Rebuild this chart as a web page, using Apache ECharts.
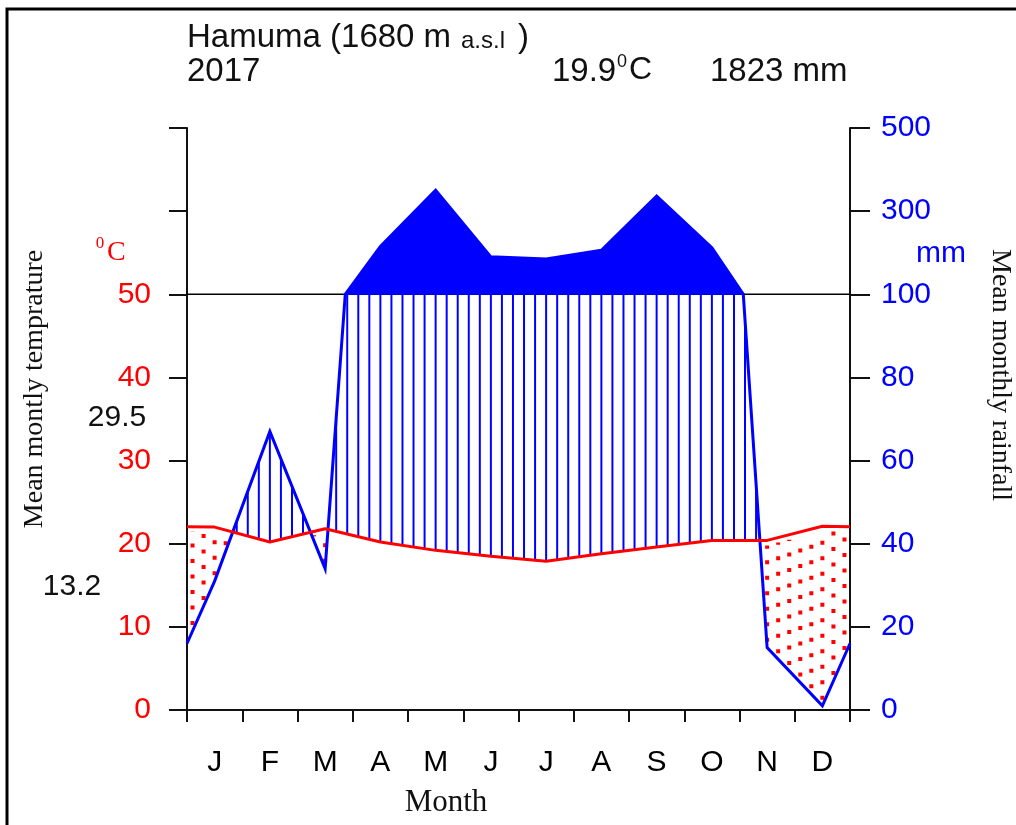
<!DOCTYPE html>
<html><head><meta charset="utf-8">
<script src="https://cdn.jsdelivr.net/npm/echarts@6/dist/echarts.min.js"></script>
<style>html,body{margin:0;padding:0;background:#fff}#c{width:1016px;height:825px}</style>
</head><body><div id="c"></div>
<script>
// ---- data ----
const months = ['J','F','M','A','M','J','J','A','S','O','N','D'];
const temperature = [22.0, 20.2, 21.8, 20.2, 19.2, 18.5, 17.9, 18.8, 19.6, 20.4, 20.4, 22.1]; // °C
const rainfall = [31, 67, 34, 215, 350, 190, 185, 206, 336, 212, 15, 1]; // mm
const leftTickLabels = ['0','10','20','30','40','50','',''];
const rightTickLabels = ['0','20','40','60','80','100','300','500'];
const stationName = 'Hamuma (1680 m';
const stationAlt = 'a.s.l';
const yearLabel = '2017';
const meanTempLabel = '19.9';
const totalRainLabel = '1823 mm';
const maxTempLabel = '29.5';
const minTempLabel = '13.2';

// ---- derived geometry helpers ----
const edgeR = (rainfall[0] + rainfall[11]) / 2;
const edgeT = (temperature[0] + temperature[11]) / 2;
const xs = [0].concat(months.map((m, i) => i + 0.5), [12]);
const rs = [edgeR].concat(rainfall, [edgeR]);
const ts = [edgeT].concat(temperature, [edgeT]);
const scaleRain = r => r <= 100 ? r / 2 : 50 + (r - 100) / 20;
function interp(arr, x) {
  for (let i = 0; i < xs.length - 1; i++) {
    if (x >= xs[i] && x <= xs[i + 1]) {
      const f = (x - xs[i]) / (xs[i + 1] - xs[i]);
      return arr[i] + f * (arr[i + 1] - arr[i]);
    }
  }
  return arr[arr.length - 1];
}
const rainPath = [];
for (let i = 0; i < xs.length; i++) {
  if (i > 0) {
    const r0 = rs[i - 1], r1 = rs[i];
    if ((r0 - 100) * (r1 - 100) < 0) {
      const f = (100 - r0) / (r1 - r0);
      rainPath.push([xs[i - 1] + f * (xs[i] - xs[i - 1]), 100]);
    }
  }
  rainPath.push([xs[i], rs[i]]);
}

const SANS = '"Liberation Sans", Arial, sans-serif';
const SERIF = '"Liberation Serif", "Times New Roman", serif';
const BLUE = '#0000ff', RED = '#ff0000';

function txt(x, y, text, size, color, family, align, rotation) {
  return { type: 'text', x: x, y: y, rotation: rotation || 0, z: 10,
    style: { text: text, font: size + 'px ' + family, fill: color,
      textAlign: align || 'left', textVerticalAlign: 'middle' } };
}

const chart = echarts.init(document.getElementById('c'));
chart.setOption({
  animation: false,
  backgroundColor: '#fff',
  grid: { left: 187, right: 166, top: 128, bottom: 115, outerBoundsMode: 'none' },
  xAxis: [
    { type: 'value', min: 0, max: 12, interval: 1, position: 'bottom',
      axisLine: { show: true, onZero: false, lineStyle: { color: '#111', width: 2 } },
      axisTick: { show: true, length: 12, lineStyle: { color: '#111', width: 2 } },
      axisLabel: { show: false }, splitLine: { show: false } },
    { type: 'category', data: months, position: 'bottom', boundaryGap: true,
      axisLine: { show: false }, axisTick: { show: false }, splitLine: { show: false },
      axisLabel: { interval: 0, margin: 38, fontSize: 30, color: '#000', fontFamily: SANS } }
  ],
  yAxis: [
    { type: 'value', min: 0, max: 70, interval: 10, position: 'left',
      axisLine: { show: true, lineStyle: { color: '#111', width: 2 } },
      axisTick: { show: true, length: 18, lineStyle: { color: '#111', width: 2 } },
      splitLine: { show: false },
      axisLabel: { margin: 36, fontSize: 30, color: RED, fontFamily: SANS,
        formatter: v => leftTickLabels[Math.round(v / 10)] } },
    { type: 'value', min: 0, max: 70, interval: 10, position: 'right',
      axisLine: { show: true, lineStyle: { color: '#111', width: 2 } },
      axisTick: { show: true, length: 20, lineStyle: { color: '#111', width: 2 } },
      splitLine: { show: false },
      axisLabel: { margin: 31, fontSize: 30, color: BLUE, fontFamily: SANS,
        formatter: v => rightTickLabels[Math.round(v / 10)] } }
  ],
  series: [
    { type: 'custom', xAxisIndex: 0, yAxisIndex: 0, data: [[0, 0]], silent: true, clip: false, z: 2,
      renderItem: function (params, api) {
        const P = (x, v) => api.coord([x, v]);
        const children = [];
        const a = P(0, 50), b = P(12, 50);
        children.push({ type: 'line', shape: { x1: a[0], y1: a[1], x2: b[0], y2: b[1] },
          style: { stroke: '#000', lineWidth: 1.5 } });
        // solid fill above 100 mm
        let run = [];
        const polys = [];
        rainPath.forEach(p => {
          if (p[1] >= 100) run.push(p);
          else { if (run.length > 1) polys.push(run); run = []; }
        });
        if (run.length > 1) polys.push(run);
        polys.forEach(poly => {
          children.push({ type: 'polygon',
            shape: { points: poly.map(p => P(p[0], scaleRain(p[1]))) },
            style: { fill: BLUE, stroke: BLUE, lineWidth: 1 } });
        });
        // humid hatching / dry dotting
        for (let k = 0; k < 60; k++) {
          const x = 0.1 + 0.2 * k;
          const r = interp(rs, x), t = interp(ts, x);
          if (r / 2 > t) {
            const p1 = P(x, t), p2 = P(x, Math.min(scaleRain(r), 50));
            children.push({ type: 'line', shape: { x1: p1[0], y1: p1[1], x2: p2[0], y2: p2[1] },
              style: { stroke: BLUE, lineWidth: 2 } });
          } else {
            const p1 = P(x, scaleRain(r)), p2 = P(x, t);
            children.push({ type: 'line', shape: { x1: p1[0], y1: p1[1] - 6, x2: p2[0], y2: p2[1] + 5 },
              style: { stroke: RED, lineWidth: 4, lineDash: [4, 11.5], lineCap: 'butt' } });
          }
        }
        // rain line
        children.push({ type: 'polyline',
          shape: { points: rainPath.map(p => P(p[0], scaleRain(p[1]))) },
          style: { stroke: BLUE, lineWidth: 3, fill: 'none' } });
        return { type: 'group', children: children };
      } },
    { type: 'line', xAxisIndex: 0, yAxisIndex: 0, z: 5, silent: true,
      data: xs.map((x, i) => [x, ts[i]]), symbol: 'none',
      lineStyle: { color: RED, width: 3 } }
  ],
  graphic: [
    { type: 'polyline', z: 10, shape: { points: [[7, 825], [7, 9], [1016, 9]] },
      style: { stroke: '#000', lineWidth: 3, fill: 'none' } },
    txt(187, 38, stationName, 33, '#111', SANS),
    txt(461, 41, stationAlt, 24, '#111', SANS),
    txt(518, 38, ')', 33, '#111', SANS),
    txt(187, 72, yearLabel, 33, '#111', SANS),
    txt(552, 72, meanTempLabel, 33, '#111', SANS),
    txt(617, 62, '0', 18, '#111', SANS),
    txt(629, 70, 'C', 32, '#111', SANS),
    txt(710, 72, totalRainLabel, 33, '#111', SANS),
    txt(100, 244, '0', 17, RED, SERIF, 'center'),
    txt(107, 253, 'C', 28, RED, SERIF),
    txt(941, 254, 'mm', 30, BLUE, SANS, 'center'),
    txt(117, 418, maxTempLabel, 30, '#111', SANS, 'center'),
    txt(72, 587, minTempLabel, 30, '#111', SANS, 'center'),
    txt(35, 389, 'Mean montly temprature', 28, '#111', SERIF, 'center', Math.PI / 2),
    txt(1000, 375, 'Mean monthly rainfall', 28, '#111', SERIF, 'center', -Math.PI / 2),
    txt(446, 803, 'Month', 31, '#111', SERIF, 'center')
  ]
});
</script></body></html>
